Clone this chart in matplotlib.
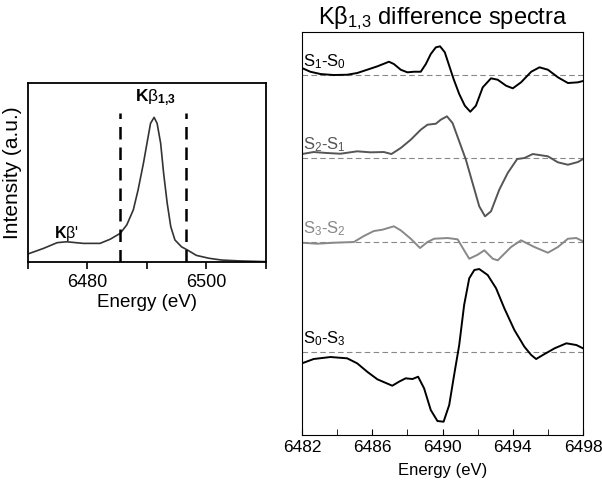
import matplotlib.pyplot as plt
import numpy as np

plt.rcParams['font.family'] = ['Liberation Sans', 'DejaVu Sans']
plt.rcParams['mathtext.fontset'] = 'custom'
plt.rcParams['mathtext.rm'] = 'Liberation Sans'
plt.rcParams['mathtext.it'] = 'Liberation Sans:italic'
plt.rcParams['mathtext.bf'] = 'Liberation Sans:bold'

# Kbeta emission spectrum (left panel)
kb_energy = [6470, 6472.6, 6474.9, 6476.5, 6479.3, 6482.1, 6483.8, 6485.5, 6486.6,
             6487.7, 6488.5, 6489.4, 6490.1, 6490.6, 6491.2, 6491.7, 6492.3, 6492.8,
             6493.4, 6494.0, 6494.7, 6495.8, 6496.8, 6498.3, 6500.4, 6502.5, 6505.6, 6510]
kb_intensity = [0.045, 0.076, 0.108, 0.113, 0.104, 0.104, 0.127, 0.160, 0.207,
                0.291, 0.402, 0.551, 0.682, 0.775, 0.808, 0.775, 0.663, 0.495,
                0.328, 0.197, 0.123, 0.085, 0.067, 0.037, 0.021, 0.011, 0.006, 0.002]
window = [6485.5, 6496.5]

# difference spectra (right panel), values relative to each baseline
e_10 = [6482.0, 6482.47, 6483.05, 6483.8, 6484.57, 6485.14, 6485.71, 6486.29, 6486.95,
        6487.23, 6487.62, 6488.0, 6488.38, 6488.76, 6489.05, 6489.33, 6489.62, 6489.86,
        6490.13, 6490.38, 6490.63, 6490.95, 6491.27, 6491.58, 6491.9, 6492.29, 6492.76,
        6493.14, 6493.62, 6494.0, 6494.47, 6495.05, 6495.52, 6496.0, 6496.57, 6497.14,
        6497.71, 6498.0]
d_10 = [7, 3.3, 1, 0, 0.3, 2, 5.3, 8.7, 13.3,
        11, 5.3, 2.7, 3.3, 3.3, 11, 21, 27.7, 28.7,
        22.7, 9.3, -4, -19, -30.7, -36.7, -30.7, -12.3, -3.3,
        -4.7, -10.7, -13.3, -7.3, 3.3, 7.7, 5.3, -2.3, -8,
        -7.3, -6]

e_21 = [6482.0, 6482.66, 6483.43, 6484.19, 6485.14, 6485.9, 6486.66, 6487.09, 6487.62,
        6488.19, 6488.76, 6489.14, 6489.62, 6489.9, 6490.25, 6490.57, 6490.95, 6491.33,
        6491.71, 6492.09, 6492.42, 6492.76, 6493.23, 6493.71, 6494.25, 6494.66, 6495.14,
        6496.0, 6496.57, 6497.14, 6497.71, 6498.0]
d_21 = [4, 6, 5, 4.3, 6.7, 5.7, 6, 4, 10,
        18.3, 28.3, 33.3, 34.3, 38.3, 41.7, 35, 16.7, -1.7,
        -25, -48.3, -58.3, -53.3, -31.7, -15, -1, 0, 4,
        1.7, -4.3, -6.7, -4, -1]

e_32 = [6482.0, 6482.86, 6483.81, 6484.95, 6485.52, 6486.09, 6486.57, 6487.23, 6487.62,
        6488.19, 6488.72, 6489.14, 6489.52, 6490.29, 6490.86, 6491.23, 6491.52, 6492.0,
        6492.38, 6492.86, 6493.14, 6493.43, 6493.9, 6494.47, 6495.23, 6496.0, 6496.57,
        6497.14, 6497.62, 6498.0]
d_32 = [-0.7, -1.7, -0.7, 0, 6, 11, 12.3, 15.7, 11.7,
        3.3, -6, 0, 3.3, 4, 2.7, -8.3, -16.7, -12.7,
        -8.3, -16.7, -18.3, -13.3, -5, 1.7, -5, -10.7, -5,
        3.3, 4, 0.7]

e_03 = [6482.0, 6482.66, 6483.62, 6484.57, 6485.14, 6485.71, 6486.29, 6487.14, 6487.52,
        6487.9, 6488.29, 6488.61, 6488.95, 6489.33, 6489.71, 6490.06, 6490.38, 6490.66,
        6490.95, 6491.23, 6491.52, 6491.81, 6492.09, 6492.57, 6493.05, 6493.52, 6494.09,
        6494.66, 6495.05, 6495.33, 6495.71, 6496.38, 6497.05, 6497.62, 6498.0]
d_03 = [-11.3, -7, -5, -6.3, -11.3, -19.7, -27.3, -33.7, -29.7,
        -26.3, -27, -24.7, -36.3, -58, -69, -69.7, -53, -23,
        7, 47, 73.7, 82, 83, 77, 63.7, 43.7, 22,
        5.3, -3, -7, -3, 3.7, 8.7, 7, 3.7]

series = [
    (e_10, d_10, 360, 'black', r'S$_1$-S$_0$'),
    (e_21, d_21, 277, '#555555', r'S$_2$-S$_1$'),
    (e_32, d_32, 193, '#888888', r'S$_3$-S$_2$'),
    (e_03, d_03, 83, 'black', r'S$_0$-S$_3$'),
]

fig = plt.figure(figsize=(6.02, 4.86), dpi=100)

# left panel
ax1 = fig.add_axes([0.0465, 0.4609, 0.3953, 0.3683])
ax1.plot(kb_energy, kb_intensity, color='#333333', lw=1.2)
for w in window:
    ax1.plot([w, w], [0, 0.83], color='black', lw=1.8, ls=(0, (5, 3.2)))
ax1.set_xlim(6470, 6510)
ax1.set_ylim(0, 1.0)
ax1.set_xticks([6480, 6500])
ax1.set_xticks([6470, 6490, 6510], minor=True)
ax1.tick_params(axis='x', which='both', direction='out', length=5, width=1.2, labelsize=13)
ax1.set_yticks([])
for s in ax1.spines.values():
    s.set_linewidth(1.3)
ax1.set_xlabel('Energy (eV)', fontsize=13.5, labelpad=2)
ax1.set_ylabel('Intensity (a.u.)', fontsize=15, labelpad=4)
ax1.text(6491.5, 0.92, r'$\mathbf{K}\mathrm{\beta}_{\mathbf{1{,}3}}$', fontsize=12.5,
         ha='center', va='center')
ax1.text(6476.5, 0.16, r"$\mathbf{K}\mathrm{\beta}$'", fontsize=11.5,
         ha='center', va='center')

# right panel
ax2 = fig.add_axes([0.5017, 0.1049, 0.4668, 0.8292])
for e, d, base, col, lab in series:
    ax2.axhline(base, color='#888888', lw=0.8, ls=(0, (5, 3)))
    ax2.plot(e, np.array(d) + base, color=col, lw=1.4)
    ax2.text(6482.05, base + 4, lab, color=col, fontsize=12, ha='left', va='bottom')
ax2.set_xlim(6482, 6498)
ax2.set_ylim(0, 403)
ax2.set_xticks(np.arange(6482, 6499, 4))
ax2.set_xticks(np.arange(6484, 6498, 4), minor=True)
ax2.tick_params(axis='x', which='both', direction='in', length=4, labelsize=12.5)
ax2.set_yticks([])
ax2.set_xlabel('Energy (eV)', fontsize=12, labelpad=6)
ax2.set_title(r'K$\mathrm{\beta}$$_{1{,}3}$ difference spectra', fontsize=17, pad=5)

fig.savefig('out.png', dpi=100)
